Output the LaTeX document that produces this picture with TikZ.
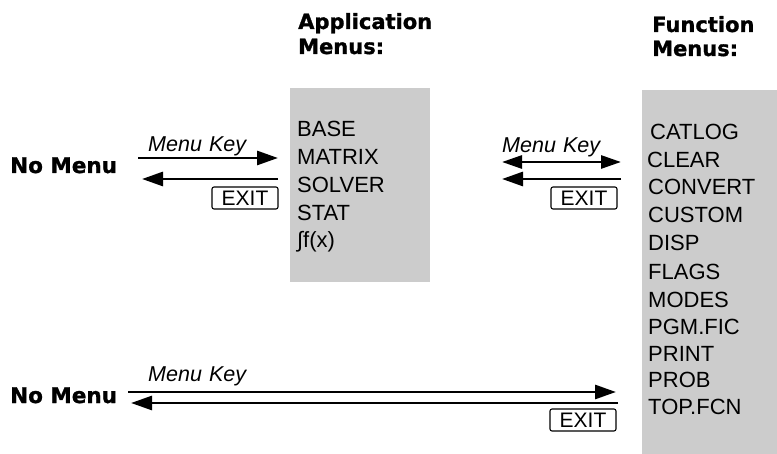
\documentclass[tikz,border=0pt]{standalone}
\usepackage{fontspec}
\setmainfont{Liberation Sans}
\newfontfamily\blackfont{DejaVu Sans}[BoldFeatures={FakeBold=1.2}]
\usetikzlibrary{arrows.meta}
\definecolor{menugray}{RGB}{204,204,204}
\tikzset{
  graybox/.style={fill=menugray, draw=none, inner sep=0pt},
  item/.style={anchor=base west, inner sep=0pt, font=\fontsize{22}{22}\selectfont},
  hdr/.style={anchor=base west, inner sep=0pt, font=\blackfont\bfseries\fontsize{21}{21}\selectfont},
  nomenu/.style={anchor=base west, inner sep=0pt, font=\blackfont\bfseries\fontsize{21.5}{22}\selectfont},
  keylbl/.style={anchor=base west, inner sep=0pt, font=\itshape\fontsize{21.5}{22}\selectfont},
  exitbox/.style={draw, line width=1.1pt, rounded corners=2pt, minimum width=66pt, minimum height=22pt, inner sep=0pt, font=\fontsize{21}{21}\selectfont},
  arr/.style={line width=2.8pt, -{Triangle[length=21pt,width=14pt]}},
  arrtwo/.style={line width=2.8pt, {Triangle[length=20pt,width=13pt]}-{Triangle[length=20pt,width=13pt]}}
}
\begin{document}
\begin{tikzpicture}[x=1pt,y=-1pt]
\useasboundingbox (0,0) rectangle (777,454);
% gray panels
\node[graybox, minimum width=140pt, minimum height=194pt, anchor=north west] (app) at (290,88) {};
\node[graybox, minimum width=135pt, minimum height=364pt, anchor=north west] (fun) at (642,90) {};
% headers
\node[hdr] (apph1) at (298,29) {Application};
\node[hdr] (apph2) at (298,54) {Menus:};
\node[hdr] (funh1) at (652,32) {Function};
\node[hdr] (funh2) at (652,56) {Menus:};
% application items
\node[item] (base) at (297,137) {BASE};
\node[item] (matrix) at (297,165) {MATRIX};
\node[item] (solver) at (297,193) {SOLVER};
\node[item] (stat) at (297,221) {STAT};
\node[item] (intf) at (297,248) {∫f(x)};
% function items
\node[item] (catlog) at (650,140) {CATLOG};
\node[item] (clear) at (647,168) {CLEAR};
\node[item] (convert) at (648,195) {CONVERT};
\node[item] (custom) at (648,223) {CUSTOM};
\node[item] (disp) at (648,251) {DISP};
\node[item] (flags) at (648,280) {FLAGS};
\node[item] (modes) at (648,308) {MODES};
\node[item] (pgm) at (648,335) {PGM.FIC};
\node[item] (print) at (648,362) {PRINT};
\node[item] (prob) at (648,388) {PROB};
\node[item] (top) at (648,415) {TOP.FCN};
% row 1 left
\node[nomenu] (nm1) at (10,173) {No Menu};
\node[keylbl] (mk1) at (148,152) {Menu\,\,Key};
\node[exitbox] (ex1) at (245,198) {EXIT};
\coordinate (a1s) at (138,158);
\coordinate (a1e) at (278,158);
\coordinate (b1s) at (278,179);
\coordinate (b1e) at (142,179);
\draw[arr] (a1s) -- (a1e);
\draw[arr] (b1s) -- (b1e);
% row 1 right
\node[keylbl] (mk2) at (502,153) {Menu\,\,Key};
\node[exitbox] (ex2) at (584,198) {EXIT};
\coordinate (c1s) at (502,162);
\coordinate (c1e) at (621,162);
\coordinate (d1s) at (621,179);
\coordinate (d1e) at (502,179);
\draw[arrtwo] (c1s) -- (c1e);
\draw[arr] (d1s) -- (d1e);
% row 2
\node[nomenu] (nm2) at (10,403) {No Menu};
\node[keylbl] (mk3) at (148,382) {Menu\,\,Key};
\node[exitbox] (ex3) at (583,420) {EXIT};
\coordinate (e1s) at (128,392);
\coordinate (e1e) at (616,392);
\coordinate (f1s) at (618,403);
\coordinate (f1e) at (131,403);
\draw[arr] (e1s) -- (e1e);
\draw[arr] (f1s) -- (f1e);
\end{tikzpicture}
\end{document}
